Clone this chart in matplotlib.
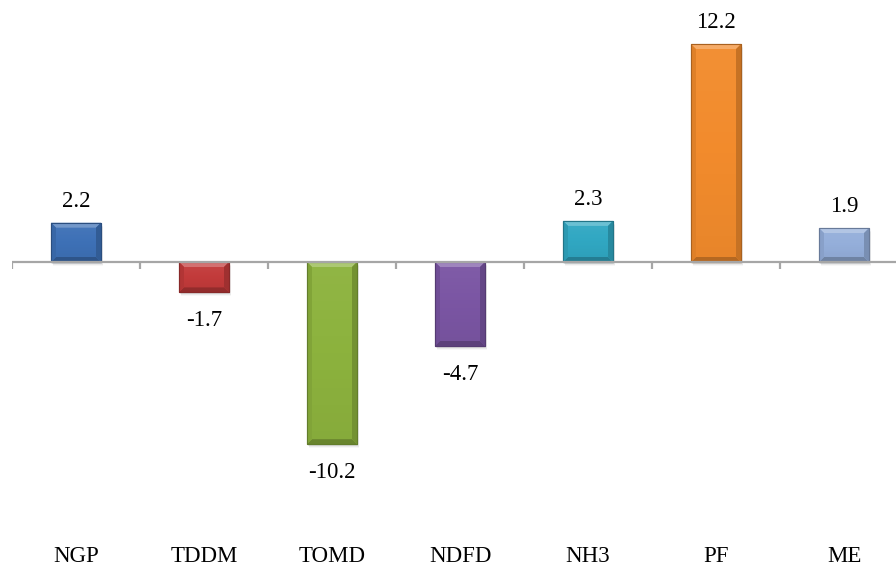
import matplotlib
matplotlib.use("Agg")
import matplotlib.pyplot as plt
from matplotlib.patches import Polygon, Rectangle
from matplotlib.colors import to_rgb
import numpy as np

categories = ["NGP", "TDDM", "TOMD", "NDFD", "NH3", "PF", "ME"]
values = [2.2, -1.7, -10.2, -4.7, 2.3, 12.2, 1.9]
colors = ["#3D70B6", "#C23A3A", "#8CB23D", "#7A55A3", "#30A7C2", "#F28B2C", "#94AEDA"]

plt.rcParams["font.family"] = ["Liberation Serif", "DejaVu Serif"]

W, H = 896, 567
fig = plt.figure(figsize=(W / 100, H / 100), dpi=100)
fig.patch.set_facecolor("white")

ylo, yhi = -14.0, 14.0
px_per_cat = 128.0
ax_h_px = 500.0
ax = fig.add_axes([12 / W, (H - 512) / H, 7 * px_per_cat / W, ax_h_px / H])
ax.set_xlim(-0.5, len(categories) - 0.5)
ax.set_ylim(ylo, yhi)
ax.axis("off")

px_per_unit_y = ax_h_px / (yhi - ylo)
bx = 5 / px_per_cat          # bevel width in x data units
by = 5 / px_per_unit_y       # bevel height in y data units
bar_w = 50 / px_per_cat
FS = 16.5


def shade(c, f):
    r, g, b = to_rgb(c)
    if f >= 0:
        return (r + (1 - r) * f, g + (1 - g) * f, b + (1 - b) * f)
    return (r * (1 + f), g * (1 + f), b * (1 + f))


def bevel_bar(x, v, c):
    x0, x1 = x - bar_w / 2, x + bar_w / 2
    lo, hi = min(0, v), max(0, v)
    # soft shadow
    for k, a in zip(range(1, 5), [0.10, 0.07, 0.05, 0.03]):
        ax.add_patch(Rectangle((x0 + 0.5 * k / px_per_cat, lo - k / px_per_unit_y),
                               bar_w, hi - lo, facecolor="black", alpha=a,
                               edgecolor="none", zorder=1))
    ax.add_patch(Rectangle((x0, lo), bar_w, hi - lo, facecolor=c,
                           edgecolor=shade(c, -0.3), linewidth=0.8, zorder=2))
    ix0, ix1, ilo, ihi = x0 + bx, x1 - bx, lo + by, hi - by
    top = Polygon([(x0, hi), (x1, hi), (ix1, ihi), (ix0, ihi)], closed=True,
                  facecolor=shade(c, 0.28), edgecolor="none", zorder=3)
    bot = Polygon([(x0, lo), (x1, lo), (ix1, ilo), (ix0, ilo)], closed=True,
                  facecolor=shade(c, -0.25), edgecolor="none", zorder=3)
    left = Polygon([(x0, lo), (x0, hi), (ix0, ihi), (ix0, ilo)], closed=True,
                   facecolor=shade(c, -0.08), edgecolor="none", zorder=3)
    right = Polygon([(x1, lo), (x1, hi), (ix1, ihi), (ix1, ilo)], closed=True,
                    facecolor=shade(c, -0.18), edgecolor="none", zorder=3)
    for p in (top, bot, left, right):
        ax.add_patch(p)
    # subtle vertical gradient on the face
    n = 20
    ys = np.linspace(ilo, ihi, n + 1)
    for i in range(n):
        f = 0.08 * (i / n) - 0.04
        ax.add_patch(Rectangle((ix0, ys[i]), ix1 - ix0, ys[i + 1] - ys[i],
                               facecolor=shade(c, f), edgecolor="none", zorder=3.5))
    ax.add_patch(Rectangle((x0, lo), bar_w, hi - lo, facecolor="none",
                           edgecolor=shade(c, -0.3), linewidth=0.8, zorder=4))


xs = np.arange(len(categories))
for x, v, c in zip(xs, values, colors):
    bevel_bar(x, v, c)
    if v >= 0:
        ax.annotate(f"{v:.1f}", (x, v), xytext=(0, 8), textcoords="offset points",
                    ha="center", va="bottom", fontsize=FS, zorder=6)
    else:
        ax.annotate(f"{v:.1f}", (x, v), xytext=(0, -13), textcoords="offset points",
                    ha="center", va="top", fontsize=FS, zorder=6)

# horizontal axis through zero with boundary ticks
ax.axhline(0, color="#A6A6A6", linewidth=1.6, zorder=5)
tick_len = 7 / px_per_unit_y
for b in np.arange(-0.5, len(categories), 1.0):
    ax.plot([b, b], [0, -tick_len], color="#A6A6A6", linewidth=1.6, zorder=5,
            solid_capstyle="butt")

# category labels along the bottom
for x, name in zip(xs, categories):
    fig.text((12 + (x + 0.5) * px_per_cat) / W, 1 - 556 / H, name,
             ha="center", va="center", fontsize=FS)

fig.savefig("out.png", dpi=100)
